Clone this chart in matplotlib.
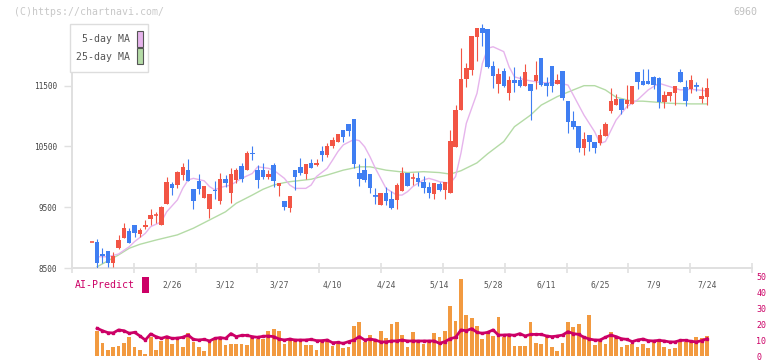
import numpy as np
import matplotlib.pyplot as plt
from matplotlib.patches import Rectangle

# daily candles (yen)
opens = [8930, 8930, 8730, 8780, 8590, 8835, 9000, 9110, 9200, 9060,
         9170, 9310, 9365, 9205, 9555, 9880, 9860, 10035, 10105, 9800,
         9935, 9650, 9470, 9790, 9610, 9965, 9740, 9950, 10180, 10110,
         10395, 10110, 10110, 10000, 10195, 9855, 9610, 9485, 10110, 10160,
         10045, 10235, 10195, 10425, 10360, 10505, 10580, 10770, 10870, 10950,
         10055, 10110, 10045, 9700, 9540, 9740, 9630, 9625, 9775, 10055,
         9975, 9985, 9910, 9840, 9725, 9880, 9790, 9735, 10495, 11100,
         11610, 11755, 12305, 12450, 12430, 11825, 11525, 11745, 11385, 11595,
         11595, 11500, 11525, 11580, 11960, 11540, 11830, 11525, 11740, 11245,
         10920, 10835, 10480, 10690, 10575, 10550, 10670, 11090, 11175, 11275,
         11195, 11200, 11725, 11575, 11575, 11650, 11625, 11235, 11330, 11385,
         11730, 11485, 11440, 11510, 11275, 11320]
highs = [8930, 8980, 8830, 8780, 8760, 9040, 9235, 9160, 9210, 9165,
         9290, 9470, 9420, 9515, 10000, 9920, 10095, 10225, 10295, 9800,
         10045, 9850, 9720, 9935, 10055, 10030, 10140, 10140, 10235, 10430,
         10505, 10195, 10225, 10110, 10235, 9900, 9610, 9685, 10115, 10305,
         10210, 10295, 10295, 10505, 10560, 10650, 10705, 10770, 10870, 10955,
         10210, 10305, 10050, 9815, 9740, 9825, 9760, 9895, 10160, 10060,
         10055, 10075, 10010, 9910, 9895, 9920, 9910, 10770, 11180, 12120,
         11880, 12320, 12450, 12515, 12435, 11900, 11785, 11790, 11660, 11800,
         11660, 11860, 11530, 11905, 11960, 11645, 11830, 11690, 11745, 11250,
         11085, 10840, 10735, 10690, 10575, 10790, 10905, 11460, 11360, 11275,
         11510, 11495, 11725, 11775, 11775, 11660, 11650, 11415, 11400, 11500,
         11770, 11590, 11675, 11560, 11470, 11625]
lows = [8930, 8500, 8580, 8510, 8520, 8820, 8990, 8905, 9015, 9015,
        9140, 9200, 9235, 9205, 9550, 9695, 9810, 9955, 9930, 9470,
        9715, 9650, 9325, 9630, 9550, 9840, 9565, 9905, 9920, 10110,
        10275, 9820, 9965, 9965, 9840, 9685, 9455, 9425, 9785, 10030,
        9965, 10145, 10180, 10260, 10320, 10470, 10575, 10580, 10675, 10150,
        9855, 9920, 9740, 9560, 9540, 9535, 9465, 9475, 9775, 9855,
        9870, 9855, 9740, 9655, 9640, 9770, 9635, 9735, 10495, 11100,
        11485, 11675, 11905, 12150, 11785, 11465, 11385, 11480, 11265, 11400,
        11480, 11500, 10935, 11445, 11500, 11335, 11400, 11525, 11270, 10725,
        10780, 10410, 10365, 10430, 10395, 10520, 10670, 11055, 11175, 11040,
        11125, 11195, 11445, 11505, 11525, 11450, 11135, 11135, 11245, 11180,
        11565, 11165, 11375, 11415, 11210, 11175]
closes = [8930, 8590, 8705, 8590, 8700, 8960, 9160, 8915, 9070, 9125,
          9205, 9365, 9370, 9500, 9920, 9815, 10085, 10155, 9930, 9600,
          9800, 9850, 9715, 9760, 9965, 9905, 10045, 10110, 9965, 10395,
          10380, 9950, 10000, 10045, 9930, 9900, 9500, 9685, 10000, 10070,
          10210, 10145, 10235, 10365, 10505, 10605, 10705, 10660, 10760, 10210,
          9965, 9950, 9820, 9690, 9730, 9610, 9490, 9865, 10055, 9855,
          9980, 9920, 9820, 9740, 9895, 9785, 9910, 10585, 11100, 11610,
          11785, 12315, 12450, 12360, 11800, 11660, 11690, 11500, 11595, 11540,
          11500, 11730, 11415, 11675, 11515, 11500, 11500, 11595, 11290, 10905,
          10825, 10480, 10620, 10565, 10470, 10690, 10870, 11255, 11275, 11100,
          11265, 11495, 11565, 11505, 11525, 11505, 11230, 11345, 11400, 11500,
          11565, 11255, 11595, 11500, 11330, 11460]

# moving averages, read at the marked days
ma5_idx = [1, 3, 5, 7, 8, 10, 11, 13, 14, 16, 17, 18, 19, 21, 22, 23, 24, 26, 28, 30,
           31, 33, 34, 36, 37, 38, 40, 41, 42, 44, 45, 46, 47, 49, 50, 51, 52, 53, 54, 55,
           57, 58, 59, 60, 62, 63, 64, 65, 67, 68, 69, 70, 72, 73, 74, 75, 77, 78, 79, 81,
           84, 87, 89, 90, 92, 94, 95, 96, 98, 100, 102, 104, 106, 108, 110, 112, 115]
ma5_val = [8685, 8685, 8730, 8850, 8935, 9070, 9180, 9260, 9425, 9620,
           9810, 9950, 9975, 9935, 9840, 9785, 9825, 9865, 9975, 10055,
           10165, 10140, 10110, 9975, 9865, 9810, 9810, 9865, 10005, 10140,
           10275, 10415, 10525, 10615, 10595, 10495, 10330, 10140, 9975, 9810,
           9700, 9700, 9755, 9840, 9950, 9975, 9950, 9920, 9895, 10005,
           10390, 10880, 11375, 11865, 12115, 12140, 12060, 11810, 11645, 11595,
           11550, 11550, 11510, 11345, 11015, 10740, 10550, 10580, 10935, 11155,
           11265, 11430, 11540, 11485, 11430, 11440, 11415]
ma25_idx = [1, 5, 7, 9, 12, 16, 19, 22, 25, 27, 30, 32, 34, 36, 37, 41, 44, 47, 50, 52,
            55, 59, 62, 65, 67, 69, 72, 74, 77, 79, 82, 84, 87, 90, 92, 94, 96, 98, 101, 103,
            106, 108, 112, 115]
ma25_val = [8520, 8715, 8825, 8890, 8960, 9045, 9155, 9290, 9425, 9565,
            9700, 9795, 9865, 9905, 9920, 9960, 10030, 10110, 10165, 10165,
            10110, 10070, 10085, 10070, 10045, 10100, 10230, 10380, 10580, 10825,
            11015, 11180, 11320, 11430, 11500, 11500, 11430, 11310, 11245, 11245,
            11225, 11210, 11200, 11200]

# lower panel, from day 1 on
volume = [15.6, 8.1, 3.8, 5.6, 6.2, 8.1, 11.9, 5.6, 3.8, 1.2,
          11.9, 3.8, 9.4, 11.2, 7.5, 10.6, 5.6, 14.4, 8.8, 5.6,
          3.1, 8.1, 10.0, 10.6, 6.9, 7.5, 7.5, 7.5, 6.9, 11.9,
          10.6, 10.6, 15.6, 16.9, 15.6, 7.5, 10.6, 10.0, 10.6, 6.9,
          6.9, 3.8, 8.8, 9.4, 6.2, 7.5, 5.0, 5.6, 18.8, 21.2,
          8.8, 13.1, 9.4, 15.6, 11.2, 20.0, 21.2, 13.1, 5.6, 15.0,
          9.4, 7.5, 8.8, 14.4, 11.9, 15.6, 31.2, 21.9, 48.1, 25.6,
          23.8, 18.8, 10.6, 15.0, 12.5, 24.4, 11.9, 13.1, 6.2, 6.2,
          6.2, 21.2, 8.1, 7.5, 11.9, 5.6, 3.1, 8.1, 21.2, 18.1,
          20.0, 11.2, 25.6, 6.9, 9.4, 7.5, 15.0, 11.9, 5.6, 6.9,
          7.5, 5.6, 7.5, 5.0, 8.8, 9.4, 5.6, 4.4, 5.0, 8.8,
          8.8, 8.8, 11.9, 11.2, 12.5]
ai_predict = [17.3, 15.8, 14.6, 14.4, 16.3, 15.8, 14.2, 14.8, 12.5, 10.0,
              13.8, 12.1, 11.0, 12.1, 11.0, 11.2, 11.7, 13.1, 10.4, 10.0,
              10.4, 9.4, 11.0, 11.5, 11.0, 14.0, 12.1, 12.9, 12.9, 12.1,
              11.7, 12.3, 12.5, 12.1, 10.6, 10.0, 10.6, 10.0, 10.0, 10.0,
              10.4, 9.6, 9.6, 10.0, 8.3, 8.5, 7.9, 9.0, 10.0, 12.1,
              10.0, 10.6, 10.0, 8.8, 8.8, 9.4, 9.4, 10.0, 9.4, 9.4,
              9.4, 9.4, 9.4, 9.4, 7.9, 9.0, 10.8, 11.7, 16.3, 15.8,
              17.1, 14.8, 14.2, 14.8, 16.3, 13.1, 13.1, 13.3, 12.9, 14.0,
              12.5, 13.5, 13.5, 13.5, 12.5, 12.1, 12.5, 13.1, 15.2, 14.0,
              13.5, 11.7, 10.6, 10.0, 10.0, 11.7, 13.1, 12.1, 10.8, 10.4,
              9.0, 10.0, 10.6, 9.6, 9.4, 9.8, 9.4, 8.8, 8.8, 9.8,
              9.8, 9.2, 8.8, 9.6, 10.8]

date_labels = ['2/26', '3/12', '3/27', '4/10', '4/24', '5/14', '5/28', '6/11', '6/25', '7/9', '7/24']
date_idx = [15, 25, 35, 45, 55, 65, 75, 85, 95, 105, 115]
price_ticks = [8500, 9500, 10500, 11500]
vol_ticks = [0, 10, 20, 30, 40, 50]

UP = '#f25545'
DOWN = '#3f7ef2'
MA5_COLOR = '#e6b4ec'
MA25_COLOR = '#b4dba6'
VOL_COLOR = '#f29a40'
AI_COLOR = '#cc0066'
GRID = '#e0e0e0'

plt.rcParams['font.family'] = 'DejaVu Sans Mono'

W, H = 772, 361
fig = plt.figure(figsize=(W / 100, H / 100), dpi=100)


def fx(x):
    return x / W


def fy(y):
    return 1 - y / H


def px_box(left, top, right, bottom):
    return [fx(left), fy(bottom), (right - left) / W, (bottom - top) / H]


XLIM = (-3.7, 123.4)
ax = fig.add_axes(px_box(72, 10, 752, 268))
vax = fig.add_axes(px_box(72, 276, 752, 356))
vax.patch.set_visible(False)

# candles
days = np.arange(len(opens))
o = np.array(opens)
c = np.array(closes)
colors = np.where(c >= o, UP, DOWN)
ax.vlines(days, lows, highs, colors=colors, linewidth=0.8, zorder=3)
ax.bar(days, np.abs(c - o), bottom=np.minimum(o, c), width=0.84, color=colors, zorder=4)
flat = np.abs(c - o) < 15
ax.hlines(c[flat], days[flat] - 0.42, days[flat] + 0.42, colors=colors[flat], linewidth=1.2, zorder=4)

ax.plot(ma25_idx, ma25_val, color=MA25_COLOR, lw=1.0, zorder=2)
ax.plot(ma5_idx, ma5_val, color=MA5_COLOR, lw=1.0, zorder=2)

ax.set_xlim(*XLIM)
ax.set_ylim(8500, 12745)
for s in ['top', 'right']:
    ax.spines[s].set_visible(False)
for s in ['left', 'bottom']:
    ax.spines[s].set_color(GRID)
    ax.spines[s].set_linewidth(1.4)
ax.spines['left'].set_bounds(8500, 12500)

ax.set_yticks(price_ticks)
ax.set_yticklabels([str(v) for v in price_ticks])
ax.tick_params(axis='y', length=5.8, width=1, color=GRID, pad=5, labelsize=5.6, labelcolor='#444')
ax.set_xticks(np.linspace(XLIM[0], XLIM[1], 12))
ax.set_xticklabels([])
ax.tick_params(axis='x', which='major', direction='inout', length=6.5, width=1.2, color=GRID)
ax.set_xticks(date_idx, minor=True)
ax.set_xticklabels(date_labels, minor=True)
ax.tick_params(axis='x', which='minor', length=0, pad=9, labelsize=5.8, labelcolor='#555')

# lower panel
vdays = days[1:]
vax.bar(vdays, volume, width=0.7, color=VOL_COLOR, zorder=2)
vax.plot(vdays, ai_predict, color=AI_COLOR, lw=2.0, marker='s', ms=2.0, zorder=3)
vax.set_xlim(*XLIM)
vax.set_ylim(0, 50)
for s in vax.spines.values():
    s.set_visible(False)
vax.set_xticks([])
vax.yaxis.tick_right()
vax.set_yticks(vol_ticks)
vax.set_yticklabels([str(v) for v in vol_ticks])
vax.tick_params(axis='y', length=0, pad=3, labelsize=6, labelcolor=AI_COLOR)

# legend
fig.add_artist(Rectangle((fx(70), fy(72)), 78 / W, 48 / H, transform=fig.transFigure,
                         facecolor='white', edgecolor='#dddddd', lw=1, zorder=10))
fig.add_artist(Rectangle((fx(137), fy(46.5)), 5.5 / W, 15.5 / H, transform=fig.transFigure,
                         facecolor=MA5_COLOR, edgecolor='#555555', lw=0.8, zorder=11))
fig.add_artist(Rectangle((fx(137), fy(63.5)), 5.5 / W, 15.5 / H, transform=fig.transFigure,
                         facecolor=MA25_COLOR, edgecolor='#555555', lw=0.8, zorder=11))
fig.text(fx(129.5), fy(39.5), '5-day MA', ha='right', va='center', fontsize=7.1, color='#555', zorder=12)
fig.text(fx(129.5), fy(56.5), '25-day MA', ha='right', va='center', fontsize=7.1, color='#555', zorder=12)

# headings
fig.text(fx(14), fy(12), '(C)https://chartnavi.com/', va='center', fontsize=7.1, color='#c8c8c8')
fig.text(fx(757), fy(12), '6960', ha='right', va='center', fontsize=7.2, color='#c0c0c0')
fig.text(fx(75), fy(285.5), 'AI-Predict', va='center', fontsize=7.1, color=AI_COLOR)
fig.add_artist(Rectangle((fx(142), fy(293)), 7 / W, 16 / H, transform=fig.transFigure,
                         facecolor=AI_COLOR, edgecolor='none', zorder=10))

fig.savefig('out.png', dpi=100)
